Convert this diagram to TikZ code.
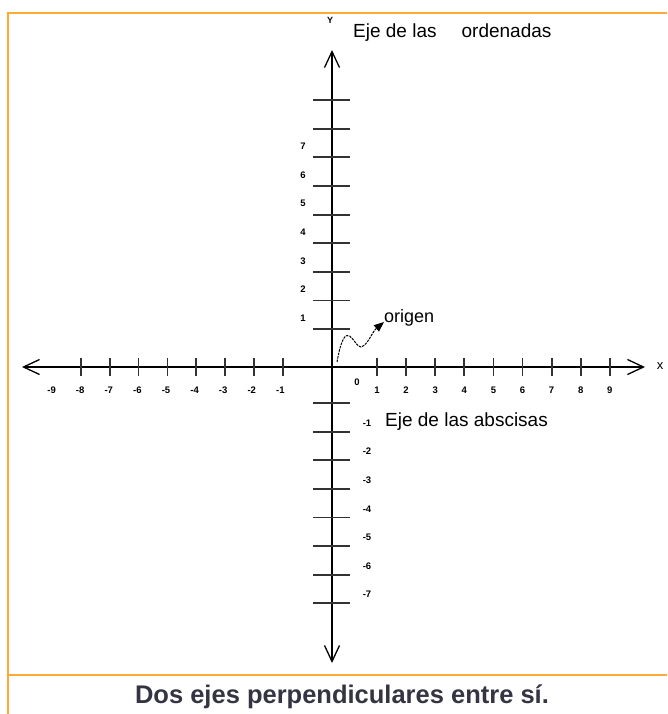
\documentclass[tikz,border=0pt]{standalone}
\usepackage{fontspec}
\setmainfont{Liberation Sans}
\usetikzlibrary{arrows.meta}
\definecolor{FrameOrange}{RGB}{255,170,51}
\definecolor{CapGray}{RGB}{52,52,66}

\begin{document}
\begin{tikzpicture}[x=1pt,y=-1pt,
  frame/.style={draw=FrameOrange,line width=2.2pt},
  axis/.style={line width=1.6pt,{Straight Barb[length=16pt,width=15pt,line width=1.3pt]}-{Straight Barb[length=16pt,width=15pt,line width=1.3pt]}},
  tick/.style={line width=1.8pt,draw=black!80},
  ticklbl/.style={font=\fontsize{9.5}{10}\selectfont\bfseries,inner sep=0pt},
  lbl/.style={font=\fontsize{19}{22}\selectfont,inner sep=0pt,anchor=base west},
  caption/.style={font=\fontsize{25.5}{28}\selectfont\bfseries,text=CapGray,inner sep=0pt,anchor=base},
]
\useasboundingbox (0,0) rectangle (667,714);
% frame
\draw[frame] (667,13) -- (8,13) -- (8,714);
\draw[frame] (8,675) -- (667,675);
% axes
\coordinate (xleft) at (22,367);
\coordinate (xright) at (645,367);
\coordinate (ytop) at (332,50);
\coordinate (ybot) at (332,663);
\draw[axis] (xleft) -- (xright);
\draw[axis] (ybot) -- (ytop);
% ticks on x axis
\foreach \k in {0,...,7}
  \draw[tick] ({283-28.9*\k},358) -- ({283-28.9*\k},376);
\foreach \k in {0,...,8}
  \draw[tick] ({377+29.1*\k},358) -- ({377+29.1*\k},376);
% ticks on y axis
\foreach \k in {0,...,8}
  \draw[tick] (313,{329-28.6*\k}) -- (350,{329-28.6*\k});
\foreach \k in {0,...,7}
  \draw[tick] (313,{403+28.6*\k}) -- (350,{403+28.6*\k});
% tick labels
\foreach \k in {1,...,9}
  \node[ticklbl] (xn\k) at ({309-28.6*\k},390) {-\k};
\foreach \k in {1,...,9}
  \node[ticklbl] (xp\k) at ({377+29.1*(\k-1)},390) {\k};
\node[ticklbl] (zero) at (357,382) {0};
\foreach \k in {1,...,7}
  \node[ticklbl] (yp\k) at (303,{318-28.6*(\k-1)}) {\k};
\foreach \k in {1,...,7}
  \node[ticklbl] (yn\k) at (367,{423+28.6*(\k-1)}) {-\k};
% axis names
\node[font=\fontsize{9}{10}\selectfont\bfseries,inner sep=0pt] (ylab) at (330,20) {Y};
\node[font=\fontsize{13}{14}\selectfont,inner sep=0pt] (xlab) at (660,366) {x};
\node[lbl] (ord) at (353,38) {Eje de las\hspace{25pt}ordenadas};
\node[lbl] (absc) at (385,426) {Eje de las abscisas};
\node[lbl,font=\fontsize{18}{20}\selectfont] (origen) at (384,322) {origen};
% wavy pointer
\coordinate (wstart) at (337,362);
\coordinate (wmid) at (361,347);
\draw[line width=1pt,dash pattern=on 2.5pt off 1pt,-{Triangle[length=10pt,width=8pt]}]
  (wstart) .. controls (346,312) and (354,348) .. (wmid)
  .. controls (368,345) and (372,332) .. (origen.base west);
% caption
\node[caption] (cap) at (342,703) {Dos ejes perpendiculares entre sí.};
\end{tikzpicture}
\end{document}
